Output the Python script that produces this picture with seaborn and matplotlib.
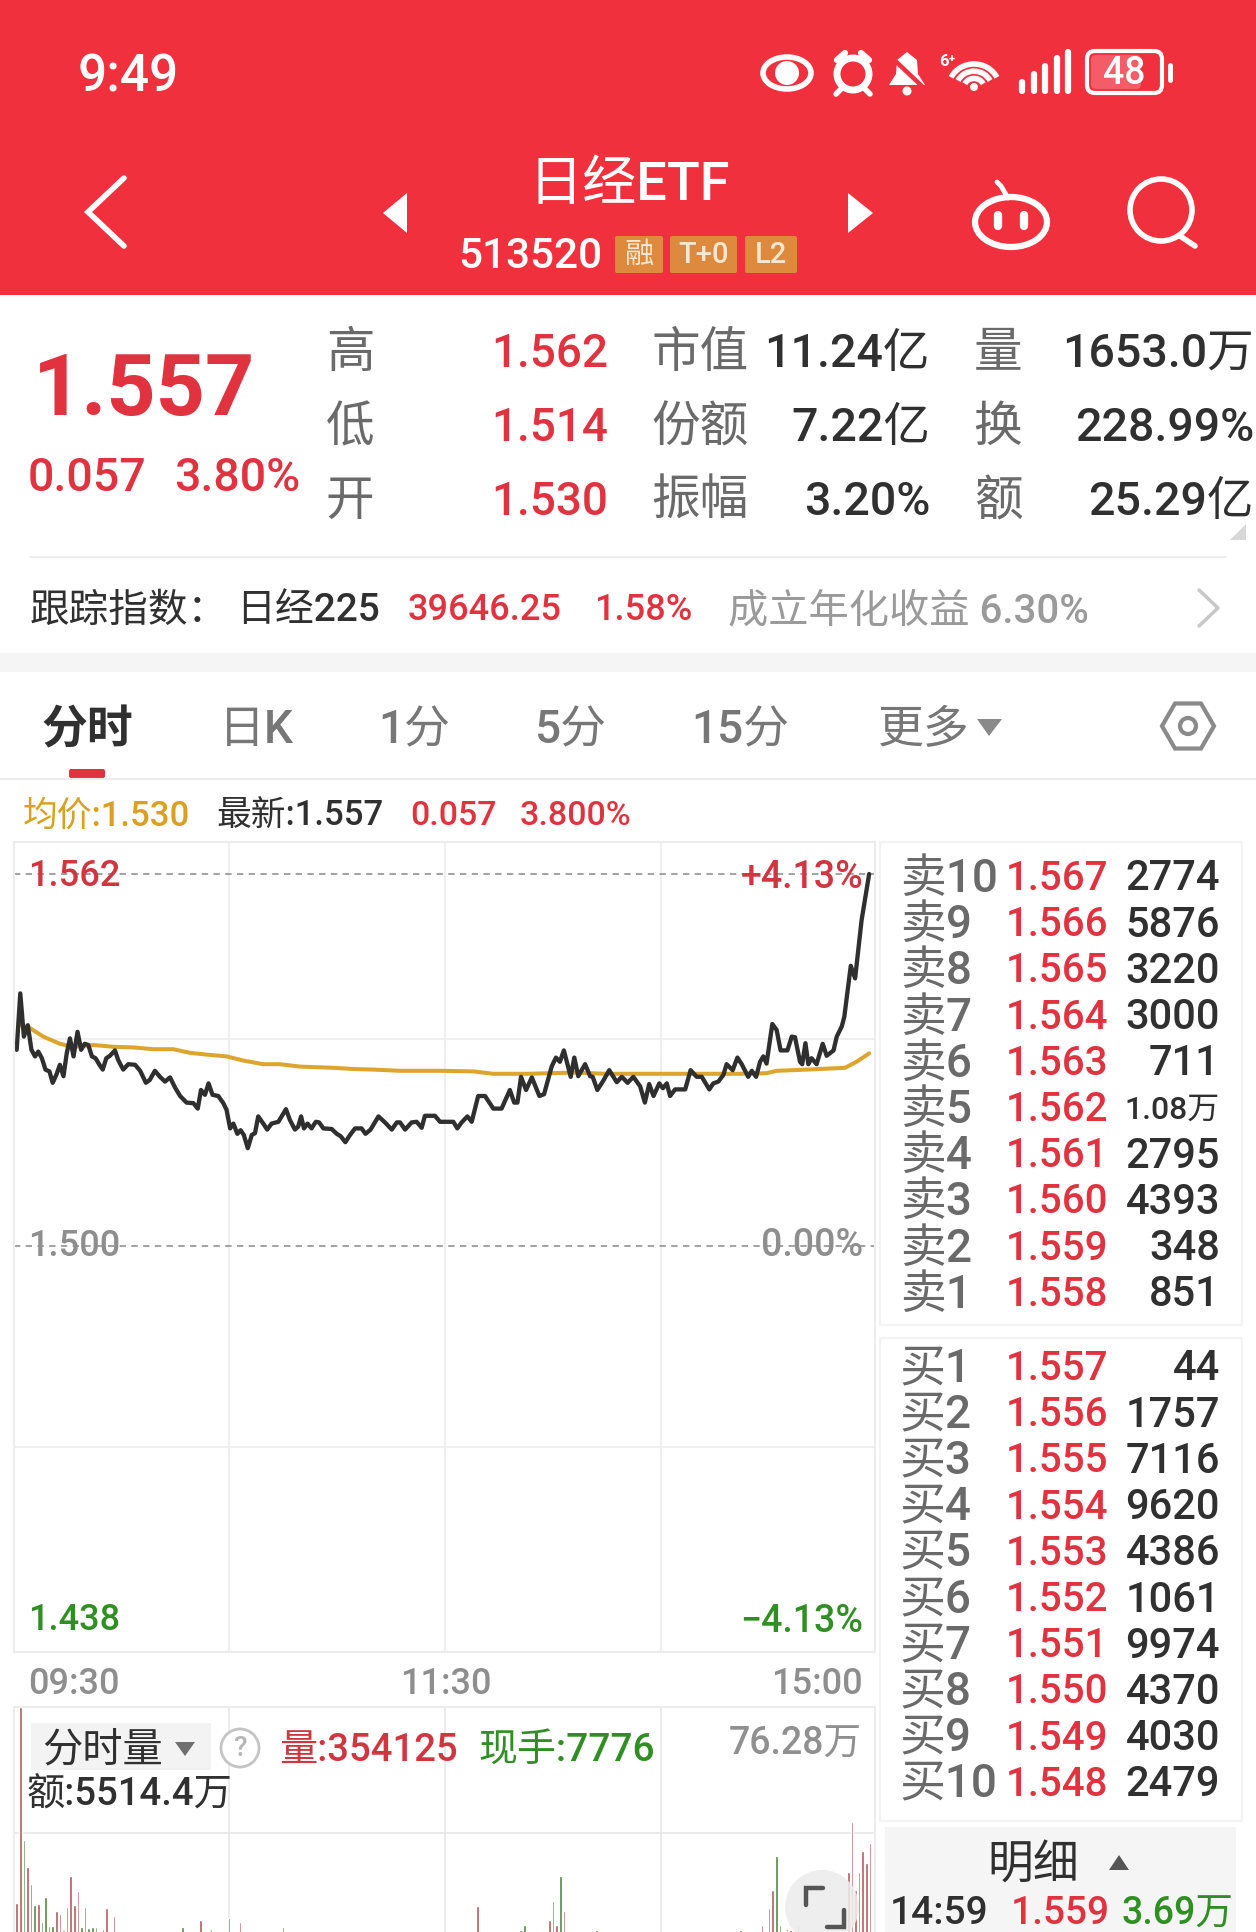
import numpy as np
import pandas as pd
import matplotlib
matplotlib.use("Agg")
import matplotlib.pyplot as plt
import seaborn as sns
from matplotlib.patches import Rectangle, Circle, Ellipse, Polygon, FancyBboxPatch, Arc

W, H = 1256, 1932
RED = '#E0333F'
HEADER = '#F1303D'
GREEN = '#2F8F22'
DARK = '#303030'
GRAY = '#6A6A6A'
LIGHT = '#8E8E8E'

# --- DATA ---
# minutes since 09:30 and price of the intraday line
price_min = [0, 1.0, 2.0, 3.1, 4.1, 5.1, 6, 7, 8, 9.1, 10, 11, 12, 13, 13.9, 14.8, 15.8, 16.9, 17.9, 18.9,
             19.9, 20.9, 21.9, 23, 23.9, 24.9, 25.9, 27.3, 28.2, 29.6, 31, 32.9, 34.3, 35.9, 37, 38.4, 39.8,
             41.2, 42.6, 44, 45.4, 47.2, 49.1, 50.3, 51.2, 52.3, 53.3, 54.4, 56, 57.4, 58.3, 59.3, 60.2,
             61.3, 62.2, 63.1, 64.2, 65.3, 66.2, 67.1, 68.5, 69.6, 70.8, 72.7, 74.8, 75.9, 77.3, 78.2, 79,
             79.8, 80.8, 81.9, 83.1, 84, 85.2, 87.5, 88.9, 90, 91.3, 92.6, 94, 95.8, 96.9, 98.3, 100.5,
             102.3, 104.2, 105.6, 106.5, 107.9, 109.7, 111.1, 112.5, 113.4, 116.2,
             117.6, 121.3, 122.4, 123.6, 125.2, 126.4, 128.2, 130.1, 132.4, 134.7, 137, 138.2, 139.1, 140.1,
             141.5, 143.1, 145.2, 146.5, 148.6, 149.8, 150.9, 152, 153.9, 154.9, 156, 157.9, 159.3, 160,
             161.3, 163, 164.6, 166.7, 168.1, 169.7, 171.3, 173.2, 174.5, 175.7, 176.9, 178.5, 179.5, 180.6,
             181.5, 182.9, 185.7, 187.2, 188.9, 190.3, 192.4, 193.5, 194.9, 196.3, 197.2, 198.9, 200.2,
             201.4, 203.2, 204.2, 205.4, 206.5, 207.4, 208.3, 209.9, 211.1, 212.2, 214.1, 215.3, 216.2,
             217.6, 218.2, 219.1, 219.9, 220.8, 222.2, 223.9, 225, 226.9, 227.8, 229.2, 229.9, 231.7, 232.9,
             234.7, 236.8]
price_val = [1.5327, 1.5421, 1.5349, 1.5368, 1.5327, 1.5316, 1.5324, 1.5313, 1.5294, 1.5291, 1.5272, 1.5285,
             1.5302, 1.5283, 1.5321, 1.5346, 1.5316, 1.5357, 1.5327, 1.5337, 1.5335, 1.5316, 1.5313, 1.5302,
             1.5294, 1.5313, 1.5317, 1.5326, 1.5310, 1.5294, 1.5303, 1.5302, 1.5292, 1.5272, 1.5277, 1.5292,
             1.5282, 1.5274, 1.5281, 1.5264, 1.5250, 1.5239, 1.5238, 1.5229, 1.5260, 1.5252, 1.5271, 1.5252,
             1.5250, 1.5238, 1.5227, 1.5196, 1.5204, 1.5187, 1.5193, 1.5185, 1.5163, 1.5185, 1.5188, 1.5216,
             1.5204, 1.5194, 1.5204, 1.5207, 1.5228, 1.5210, 1.5194, 1.5199, 1.5216, 1.5196, 1.5204, 1.5196,
             1.5207, 1.5206, 1.5196, 1.5195, 1.5187, 1.5183, 1.5173, 1.5185, 1.5196, 1.5196, 1.5187, 1.5194,
             1.5216, 1.5206, 1.5194, 1.5206, 1.5206, 1.5194, 1.5206, 1.5207, 1.5197, 1.5217, 1.5217,
             1.5207, 1.5207, 1.5196, 1.5206, 1.5216, 1.5207, 1.5250, 1.5250, 1.5229, 1.5229, 1.5260, 1.5239,
             1.5239, 1.5282, 1.5260, 1.5281, 1.5250, 1.5253, 1.5299, 1.5314, 1.5307, 1.5326, 1.5282, 1.5314,
             1.5283, 1.5303, 1.5283, 1.5282, 1.5260, 1.5276, 1.5293, 1.5273, 1.5282, 1.5272, 1.5282, 1.5266,
             1.5239, 1.5270, 1.5250, 1.5271, 1.5263, 1.5271, 1.5250, 1.5261, 1.5261, 1.5293, 1.5282, 1.5282,
             1.5261, 1.5271, 1.5274, 1.5285, 1.5303, 1.5293, 1.5314, 1.5303, 1.5282, 1.5292, 1.5282, 1.5307,
             1.5316, 1.5304, 1.5370, 1.5360, 1.5326, 1.5326, 1.5349, 1.5348, 1.5307, 1.5303, 1.5338, 1.5303,
             1.5313, 1.5303, 1.5337, 1.5317, 1.5326, 1.5349, 1.5366, 1.5382, 1.5467, 1.5446, 1.5543, 1.5620]

avg_min = [1.1, 3.7, 7.4, 12, 15.7, 21.3, 26.9, 32.4, 38, 43.5, 48.1, 52.8, 58.3, 63, 68.5, 73.1, 78.7, 83.3, 88,
           93.5, 99.1, 106.5, 117.6, 126.9, 132.4, 141.7, 154.6, 163.9, 187, 200.9, 208.3, 211.1, 219.5, 230.1,
           233.3, 236.8]
avg_val = [1.5368, 1.5363, 1.5349, 1.5337, 1.5332, 1.5335, 1.5332, 1.5331, 1.5328, 1.5328, 1.5322, 1.5319,
           1.5316, 1.5309, 1.5303, 1.5303, 1.5299, 1.5298, 1.5297, 1.5295, 1.5294, 1.5292, 1.5292, 1.5291,
           1.5287, 1.5287, 1.5289, 1.5287, 1.5287, 1.5287, 1.5288, 1.5292, 1.5294, 1.5297, 1.5307, 1.5321]

# per minute volume (wan), only the bars tall enough to show above the crop
vol_min = [0, 1, 2, 3, 4, 5, 6, 7, 8, 9, 10, 11, 12, 13, 14, 15, 16, 17, 18, 19, 20, 21, 22, 24, 25, 27, 46, 51, 54,
           59, 62, 74, 128, 140, 141, 144, 148, 149, 150, 151, 152, 161, 201, 207, 209, 210, 211, 212, 214, 215,
           217, 231, 232, 233, 234, 235, 236, 237]
vol_val = [17, 76.28, 36, 27.9, 22.6, 16.4, 16.5, 11.3, 18.9, 10, 10.1, 14.5, 13.6, 8.8, 15.6, 25.1, 16.4, 20.6, 9.6,
           15.6, 9.3, 9.6, 9.8, 9.2, 15.3, 13.1, 9.8, 11.7, 9.2, 12.5, 11.3, 9.8, 16, 8.8, 10.3, 8.6, 11.7, 17.6,
           10.3, 25.1, 14.5, 8.8, 8.9, 10.4, 15.3, 20.9, 31.2, 10.4, 9.2, 8.9, 10.3, 26.4, 41.6, 20.9, 26.4, 32.8,
           29, 35.2]
vol_dir = ['up', 'up', 'down', 'up', 'down', 'down', 'up', 'down', 'down', 'down', 'down', 'up', 'up', 'up', 'up', 'up',
           'up', 'up', 'down', 'up', 'down', 'down', 'down', 'down', 'up', 'up', 'down', 'up', 'down', 'down', 'up',
           'up', 'up', 'down', 'down', 'down', 'up', 'up', 'up', 'down', 'up', 'down', 'down', 'up', 'up', 'up',
           'down', 'down', 'down', 'up', 'down', 'up', 'up', 'up', 'up', 'up', 'up', 'up']

sell_labels = ['卖10', '卖9', '卖8', '卖7', '卖6', '卖5', '卖4', '卖3', '卖2', '卖1']
sell_prices = ['1.567', '1.566', '1.565', '1.564', '1.563', '1.562', '1.561', '1.560', '1.559', '1.558']
sell_vols = ['2774', '5876', '3220', '3000', '711', '1.08万', '2795', '4393', '348', '851']
buy_labels = ['买1', '买2', '买3', '买4', '买5', '买6', '买7', '买8', '买9', '买10']
buy_prices = ['1.557', '1.556', '1.555', '1.554', '1.553', '1.552', '1.551', '1.550', '1.549', '1.548']
buy_vols = ['44', '1757', '7116', '9620', '4386', '1061', '9974', '4370', '4030', '2479']

stat_labels = [['高', '低', '开'], ['市值', '份额', '振幅'], ['量', '换', '额']]
stat_values = [['1.562', '1.514', '1.530'], ['11.24亿', '7.22亿', '3.20%'], ['1653.0万', '228.99%', '25.29亿']]
tabs = ['日K', '1分', '5分', '15分', '更多']

# --- FIGURE ---
sns.set_style("white")
plt.rcParams['font.family'] = ['Roboto', 'Noto Sans CJK SC', 'DejaVu Sans']
plt.rcParams['axes.unicode_minus'] = False

fig = plt.figure(figsize=(W / 100, H / 100), dpi=100, facecolor='white')


def pane(x0, y0, x1, y1, z):
    ax = fig.add_axes([x0 / W, 1 - y1 / H, (x1 - x0) / W, (y1 - y0) / H], zorder=z)
    ax.patch.set_alpha(0)
    return ax


back = pane(0, 0, W, H, 0)
front = pane(0, 0, W, H, 3)
for a in (back, front):
    a.set_xlim(0, W)
    a.set_ylim(H, 0)
    a.axis('off')


def label(x, y, s, size, color=DARK, ha='left', weight='medium', ax=front):
    # va center sits a little high for these fonts
    ax.text(x, y + 3, s, fontsize=size, color=color, ha=ha, va='center', fontweight=weight, clip_on=True)


# --- Header ---
back.add_patch(Rectangle((0, 0), W, 295, color=HEADER, lw=0))
label(78, 75, '9:49', 37, 'white')
label(629, 182, '日经ETF', 39, 'white', ha='center')
label(458, 253, '513520', 30.5, 'white')
for x0, x1, s in [(615, 663, '融'), (670, 737, 'T+0'), (745, 797, 'L2')]:
    back.add_patch(FancyBboxPatch((x0 + 2, 238), x1 - x0 - 4, 33, boxstyle='round,pad=2', fc='#DD8A3F', ec='none'))
    label((x0 + x1) / 2, 252, s, 21, '#F8E6CF', ha='center')

# status icons
white = dict(color='white', solid_capstyle='round')
back.add_patch(Ellipse((787, 73), 48, 32, fc='none', ec='white', lw=4))
back.add_patch(Circle((787, 73), 12, fc='white', ec='none'))
back.add_patch(Circle((853, 74), 16, fc='none', ec='white', lw=5))
back.plot([837, 845], [60, 53], lw=4.5, **white)
back.plot([861, 869], [53, 60], lw=4.5, **white)
back.plot([842, 836], [88, 94], lw=4, **white)
back.plot([864, 870], [88, 94], lw=4, **white)
back.plot([853, 853, 860], [66, 76, 81], lw=2.5, color=HEADER)
back.add_patch(Polygon([[889, 85], [896, 74], [897, 60], [907, 52], [917, 60], [918, 74], [925, 85]], fc='white', ec='none'))
back.plot([888, 926], [54, 90], lw=3.2, color=HEADER)
back.add_patch(Circle((907, 91), 4.5, fc='white', ec='none'))
label(947, 58, '6⁺', 12, 'white', ha='center', weight='bold')
for r in (30, 21, 12):
    back.add_patch(Arc((974, 88), r * 1.7, r * 1.6, theta1=205, theta2=335, ec='white', lw=4))
back.add_patch(Circle((974, 87), 4, fc='white', ec='none'))
for i, top in enumerate([82, 74, 66, 58, 52]):
    back.plot([1022 + i * 11.5] * 2, [91, top], lw=4.5, **white)
back.add_patch(FancyBboxPatch((1089, 53), 71, 38, boxstyle='round,pad=2,rounding_size=8', fc='none', ec='white', lw=3))
back.add_patch(FancyBboxPatch((1091, 55), 50, 34, boxstyle='round,pad=0,rounding_size=5', fc='white', alpha=0.22, ec='none'))
label(1124, 71, '48', 27, 'white', ha='center')
back.plot([1170, 1170], [65, 80], lw=3.5, **white)

# nav icons
back.plot([124, 88, 124], [178, 212, 246], lw=4, color='white', solid_joinstyle='miter')
back.add_patch(Polygon([[407, 193], [383, 213], [407, 233]], fc='white', ec='none'))
back.add_patch(Polygon([[848, 193], [873, 213], [848, 233]], fc='white', ec='none'))
back.add_patch(Ellipse((1011, 222), 72, 50, fc='none', ec='white', lw=4.5))
back.plot([997, 1001, 1008], [182, 186, 198], lw=3.5, **white)
back.plot([998, 998], [215, 226], lw=6, **white)
back.plot([1024, 1024], [215, 226], lw=6, **white)
back.add_patch(Circle((1161, 210), 31, fc='none', ec='white', lw=4))
back.plot([1180, 1195], [236, 246], lw=4, **white)

# --- Quote block ---
label(33, 389, '1.557', 62, RED, weight='bold')
label(28, 475, '0.057', 33.5, RED)
label(174, 475, '3.80%', 33.5, RED)
row_y = [351, 425, 499]
for r, y in enumerate(row_y):
    label(350, y, stat_labels[0][r], 35, GRAY, ha='center')
    label(608, y, stat_values[0][r], 33, RED, ha='right')
    label(651, y, stat_labels[1][r], 35, GRAY)
    label(930, y, stat_values[1][r], 33.5, DARK, ha='right')
    label(998, y, stat_labels[2][r], 35, GRAY, ha='center')
    label(1254, y, stat_values[2][r], 33.5, DARK, ha='right')
back.add_patch(Polygon([[1246, 524], [1246, 540], [1230, 540]], fc='#D8D8D8', ec='none'))
back.plot([30, 1226], [557, 557], color='#EEEEEE', lw=1.5)

label(30, 608, '跟踪指数：', 28.5, DARK)
label(236, 608, '日经225', 28, DARK)
label(408, 608, '39646.25', 26, RED)
label(594, 608, '1.58%', 26, RED)
label(728, 608, '成立年化收益 6.30%', 29, '#9A9A9A')
back.plot([1199, 1218, 1199], [590, 608, 626], color='#C8C8C8', lw=2.5)
back.add_patch(Rectangle((0, 653), W, 19, color='#F5F5F5', lw=0))

# --- Tabs ---
label(42, 727, '分时', 33, DARK, weight='bold')
for x, s in zip([219, 378, 535, 691, 878], tabs):
    label(x, 727, s, 33, '#777777')
back.add_patch(Polygon([[977, 719], [1002, 719], [989, 736]], fc='#8A8A8A', ec='none'))
hex_ang = np.deg2rad(np.arange(0, 360, 60))
back.add_patch(Polygon(np.c_[1188 + 26 * np.cos(hex_ang), 726 + 26 * np.sin(hex_ang)], fc='none', ec='#8A8A8A', lw=3))
back.add_patch(Circle((1188, 726), 8, fc='none', ec='#8A8A8A', lw=3))
back.add_patch(FancyBboxPatch((71, 771), 32, 5, boxstyle='round,pad=2', fc=RED, ec='none'))
back.plot([0, W], [779, 779], color='#EDEDED', lw=1.5)

label(23, 813, '均价:1.530', 25, '#D9A021')
label(216, 813, '最新:1.557', 25, DARK)
label(410, 813, '0.057', 24.5, RED)
label(520, 813, '3.800%', 24.5, RED)

# --- Price pane ---
px_per_min = 3.6
x_at_zero = 16.67
xlim = ((14 - x_at_zero) / px_per_min, (875 - x_at_zero) / px_per_min)

price_ax = pane(14, 842, 875, 1652, 1)
sns.lineplot(x=avg_min, y=avg_val, color='#DDA52E', lw=2.9, estimator=None, sort=False, ax=price_ax)
sns.lineplot(x=price_min, y=price_val, color='#2F2F2F', lw=3.1, estimator=None, sort=False, ax=price_ax)
price_ax.set_xlim(*xlim)
price_ax.set_ylim(1.562 - 778 / 6000, 1.562 + 32 / 6000)
price_ax.set_xticks([59, 119, 179])
price_ax.set_yticks([1.5345, 1.4665])
price_ax.grid(True, color='#EFEFEF', lw=1.5)
price_ax.set_axisbelow(True)
price_ax.tick_params(length=0, labelbottom=False, labelleft=False)
for s in price_ax.spines.values():
    s.set_color('#EDEDED')
    s.set_linewidth(1.5)
for level in (1.562, 1.5):
    price_ax.axhline(level, color='#9A9A9A', lw=1.3, ls=(0, (3.5, 3)), zorder=1.5)

label(28, 874, '1.562', 26, '#CF3640')
label(863, 874, '+4.13%', 27, '#CF3640', ha='right')
label(28, 1243, '1.500', 26, '#8E8E8E')
label(863, 1243, '0.00%', 27, '#8E8E8E', ha='right')
label(28, 1618, '1.438', 26, GREEN)
label(863, 1618, '−4.13%', 27, GREEN, ha='right')
label(28, 1681, '09:30', 26, LIGHT)
label(446, 1681, '11:30', 26, LIGHT, ha='center')
label(863, 1681, '15:00', 26, LIGHT, ha='right')

# --- Volume pane ---
vol_df = pd.DataFrame({'minute': vol_min, 'vol': vol_val, 'dir': vol_dir})
vol_ax = pane(14, 1707, 875, H, 1)
sns.barplot(data=vol_df, x='minute', y='vol', hue='dir', palette={'up': '#C24A50', 'down': '#4E8F35'},
            native_scale=True, dodge=False, width=0.75, legend=False, ax=vol_ax)
vol_ax.set_xlim(*xlim)
vol_ax.set_ylim(27 * 0.3027, 76.28)
vol_ax.set_xticks([59, 119, 179])
vol_ax.set_yticks([(1959 - 1833) * 0.3027])
vol_ax.grid(True, color='#E8E8E8', lw=1.3)
vol_ax.set_axisbelow(True)
vol_ax.set_xlabel('')
vol_ax.set_ylabel('')
vol_ax.tick_params(length=0, labelbottom=False, labelleft=False)
for side, s in vol_ax.spines.items():
    s.set_color('#EDEDED')
    s.set_linewidth(1.5)
vol_ax.spines['bottom'].set_visible(False)

front.add_patch(Rectangle((31, 1723), 180, 47, color='#F3F3F3', lw=0, zorder=0))
label(42, 1747, '分时量', 29, DARK)
front.add_patch(Polygon([[175, 1742], [195, 1742], [185, 1756]], fc='#6F6F6F', ec='none'))
front.add_patch(Circle((240, 1748), 19, fc='white', ec='#C4C4C4', lw=2))
label(240, 1745, '?', 20, '#B5B5B5', ha='center')
label(279, 1747, '量:354125', 27.5, '#CF3640')
label(478, 1747, '现手:7776', 28, GREEN)
label(862, 1741, '76.28万', 27, '#909090', ha='right')
label(26, 1792, '额:5514.4万', 27.5, DARK)

front.add_patch(Circle((822, 1907), 37, fc='#ECECEC', ec='none', alpha=0.88))
front.plot([806, 806, 823], [1905, 1888, 1888], color='#555555', lw=3.2, solid_joinstyle='miter')
front.plot([827, 844, 844], [1927, 1927, 1910], color='#555555', lw=3.2, solid_joinstyle='miter')

# --- Order book ---
back.add_patch(Rectangle((880, 842), 362, 483, fc='none', ec='#F3F3F3', lw=1.5))
back.add_patch(Rectangle((880, 1338), 362, 483, fc='none', ec='#F3F3F3', lw=1.5))
for start, labels, prices, vols in [(876, sell_labels, sell_prices, sell_vols), (1366, buy_labels, buy_prices, buy_vols)]:
    for i in range(10):
        y = start + i * 46.2
        label(900, y, labels[i], 33, GRAY)
        label(1006, y, prices[i], 29, RED)
        small = '万' in vols[i]
        label(1220, y, vols[i], 23 if small else 30, DARK, ha='right')

back.add_patch(Rectangle((885, 1827), 351, 105, color='#F5F5F5', lw=0))
label(1033, 1863, '明细', 33, DARK, ha='center')
front.add_patch(Polygon([[1109, 1870], [1129, 1870], [1119, 1855]], fc='#555555', ec='none'))
label(890, 1911, '14:59', 28, DARK)
label(1011, 1911, '1.559', 28, RED)
label(1233, 1911, '3.69万', 27, GREEN, ha='right')

fig.savefig('out.png', dpi=100, facecolor='white')
